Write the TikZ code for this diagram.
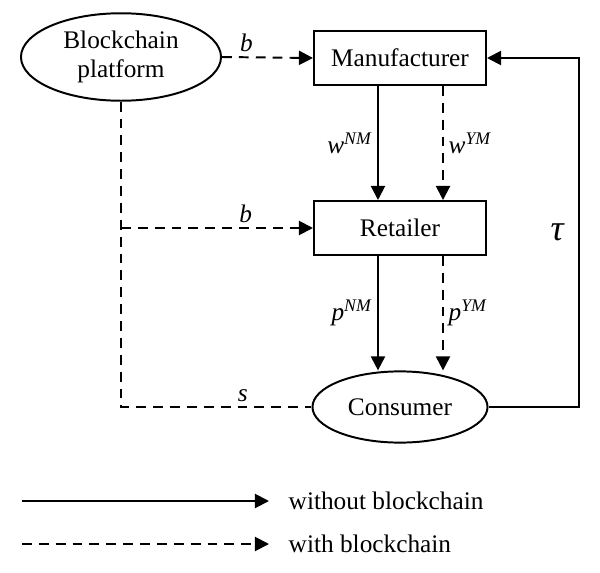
\documentclass[tikz,border=0pt]{standalone}
\usepackage{fontspec}
\setmainfont{Liberation Serif}
\usetikzlibrary{shapes.geometric,arrows.meta}

\tikzset{
  box/.style={draw, rectangle, minimum width=4.3cm, minimum height=1.35cm},
  oval/.style={draw, ellipse, minimum width=5cm, minimum height=1.8cm, align=center},
  chain/.style={dash pattern=on 7pt off 5pt}
}

\begin{document}
\begin{tikzpicture}[x=0.025cm, y=-0.025cm, line width=1.4pt,
  font=\fontsize{18}{21}\selectfont, >={Triangle[length=10pt,width=10pt]}]
\useasboundingbox (0,0) rectangle (600,573);

\node[oval] (platform) at (121,57) {Blockchain\\platform};
\node[box] (manufacturer) at (400,58) {Manufacturer};
\node[box] (retailer) at (400,228) {Retailer};
\node[oval, minimum width=4.375cm, minimum height=1.78cm] (consumer) at (400,407) {Consumer};

% blockchain platform
\draw[chain, ->] (platform.east) -- node[pos=0.27, above] (b1) {\textit{b}} (manufacturer.west);
\draw[chain] (platform.south) |- node[pos=0.82, above] (s) {\textit{s}} (consumer.west);
\draw[chain, ->] (platform.south |- retailer.west) -- node[pos=0.65, above] (b2) {\textit{b}} (retailer.west);

% wholesale price
\draw[->] ([xshift=-0.55cm]manufacturer.south) -- node[midway, left] (wnm) {\textit{w}\textsuperscript{\textit{NM}}} ([xshift=-0.55cm]retailer.north);
\draw[chain, ->] ([xshift=1.075cm]manufacturer.south) -- node[midway, right] (wym) {\textit{w}\textsuperscript{\textit{YM}}} ([xshift=1.075cm]retailer.north);

% retail price
\draw[->] ([xshift=-0.55cm]retailer.south) -- node[midway, left] (pnm) {\textit{p}\textsuperscript{\textit{NM}}} ([xshift=-0.55cm]retailer.south |- consumer.north);
\draw[chain, ->] ([xshift=1.075cm]retailer.south) -- node[midway, right] (pym) {\textit{p}\textsuperscript{\textit{YM}}} ([xshift=1.075cm]retailer.south |- consumer.north);

% feedback
\draw[->] (consumer.east) -- ++(2.26cm,0) |- node[pos=0.25, left=6pt, font=\fontsize{26}{28}\selectfont] (tau) {\textit{τ}} (manufacturer.east);

% legend
\coordinate (solidstart) at (22,501);
\coordinate (dashstart) at (22,544);
\draw[->] (solidstart) -- ++(247,0) node[right=10pt] (without) {without blockchain};
\draw[chain, ->] (dashstart) -- ++(247,0) node[right=10pt] (with) {with blockchain};
\end{tikzpicture}
\end{document}
